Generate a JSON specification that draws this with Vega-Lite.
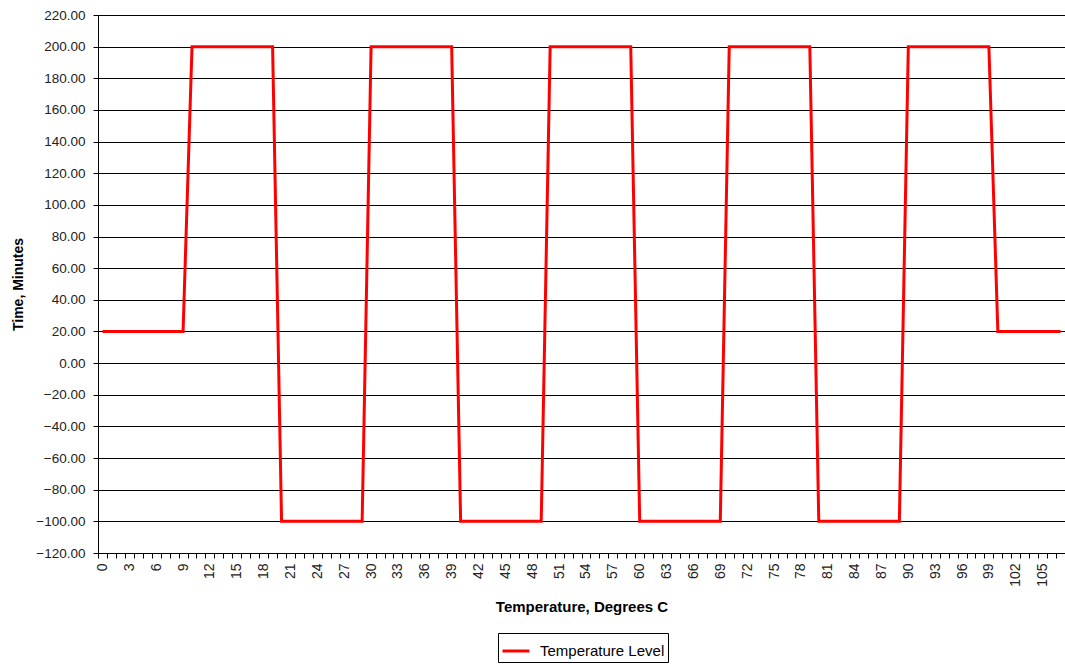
{
  "$schema": "https://vega.github.io/schema/vega-lite/v6.json",
  "autosize": "none",
  "width": 967,
  "height": 538,
  "padding": {"left": 98, "top": 15, "right": 0, "bottom": 111},
  "background": "white",
  "config": {
    "view": {"stroke": null},
    "font": "Liberation Sans"
  },
  "data": {
    "values": [
      {"t": 0, "v": 20}, {"t": 1, "v": 20}, {"t": 2, "v": 20}, {"t": 3, "v": 20}, {"t": 4, "v": 20},
      {"t": 5, "v": 20}, {"t": 6, "v": 20}, {"t": 7, "v": 20}, {"t": 8, "v": 20}, {"t": 9, "v": 20},
      {"t": 10, "v": 200}, {"t": 11, "v": 200}, {"t": 12, "v": 200}, {"t": 13, "v": 200}, {"t": 14, "v": 200},
      {"t": 15, "v": 200}, {"t": 16, "v": 200}, {"t": 17, "v": 200}, {"t": 18, "v": 200}, {"t": 19, "v": 200},
      {"t": 20, "v": -100}, {"t": 21, "v": -100}, {"t": 22, "v": -100}, {"t": 23, "v": -100}, {"t": 24, "v": -100},
      {"t": 25, "v": -100}, {"t": 26, "v": -100}, {"t": 27, "v": -100}, {"t": 28, "v": -100}, {"t": 29, "v": -100},
      {"t": 30, "v": 200}, {"t": 31, "v": 200}, {"t": 32, "v": 200}, {"t": 33, "v": 200}, {"t": 34, "v": 200},
      {"t": 35, "v": 200}, {"t": 36, "v": 200}, {"t": 37, "v": 200}, {"t": 38, "v": 200}, {"t": 39, "v": 200},
      {"t": 40, "v": -100}, {"t": 41, "v": -100}, {"t": 42, "v": -100}, {"t": 43, "v": -100}, {"t": 44, "v": -100},
      {"t": 45, "v": -100}, {"t": 46, "v": -100}, {"t": 47, "v": -100}, {"t": 48, "v": -100}, {"t": 49, "v": -100},
      {"t": 50, "v": 200}, {"t": 51, "v": 200}, {"t": 52, "v": 200}, {"t": 53, "v": 200}, {"t": 54, "v": 200},
      {"t": 55, "v": 200}, {"t": 56, "v": 200}, {"t": 57, "v": 200}, {"t": 58, "v": 200}, {"t": 59, "v": 200},
      {"t": 60, "v": -100}, {"t": 61, "v": -100}, {"t": 62, "v": -100}, {"t": 63, "v": -100}, {"t": 64, "v": -100},
      {"t": 65, "v": -100}, {"t": 66, "v": -100}, {"t": 67, "v": -100}, {"t": 68, "v": -100}, {"t": 69, "v": -100},
      {"t": 70, "v": 200}, {"t": 71, "v": 200}, {"t": 72, "v": 200}, {"t": 73, "v": 200}, {"t": 74, "v": 200},
      {"t": 75, "v": 200}, {"t": 76, "v": 200}, {"t": 77, "v": 200}, {"t": 78, "v": 200}, {"t": 79, "v": 200},
      {"t": 80, "v": -100}, {"t": 81, "v": -100}, {"t": 82, "v": -100}, {"t": 83, "v": -100}, {"t": 84, "v": -100},
      {"t": 85, "v": -100}, {"t": 86, "v": -100}, {"t": 87, "v": -100}, {"t": 88, "v": -100}, {"t": 89, "v": -100},
      {"t": 90, "v": 200}, {"t": 91, "v": 200}, {"t": 92, "v": 200}, {"t": 93, "v": 200}, {"t": 94, "v": 200},
      {"t": 95, "v": 200}, {"t": 96, "v": 200}, {"t": 97, "v": 200}, {"t": 98, "v": 200}, {"t": 99, "v": 200},
      {"t": 100, "v": 20}, {"t": 101, "v": 20}, {"t": 102, "v": 20}, {"t": 103, "v": 20}, {"t": 104, "v": 20},
      {"t": 105, "v": 20}, {"t": 106, "v": 20}, {"t": 107, "v": 20}
    ]
  },
  "mark": {"type": "line", "strokeWidth": 3, "interpolate": "linear"},
  "encoding": {
    "x": {
      "field": "t",
      "type": "ordinal",
      "bandPosition": 0.5,
      "scale": {"type": "band", "paddingInner": 0, "paddingOuter": 0},
      "axis": {
        "title": "Temperature, Degrees C",
        "titleFont": "Liberation Sans",
        "titleFontSize": 15,
        "titleFontWeight": "bold",
        "titleColor": "black",
        "titlePadding": 13,
        "labelAngle": -90,
        "labelAlign": "right",
        "labelBaseline": "middle",
        "labelFontSize": 14,
        "labelColor": "#222",
        "labelPadding": 5,
        "labelOverlap": false,
        "labelExpr": "datum.value % 3 === 0 ? datum.label : ''",
        "tickBand": "extent",
        "tickSize": 5,
        "tickColor": "black",
        "domainColor": "black",
        "grid": false
      }
    },
    "y": {
      "field": "v",
      "type": "quantitative",
      "scale": {"domain": [-120, 220], "nice": false, "zero": false},
      "axis": {
        "title": "Time, Minutes",
        "titleFont": "Liberation Sans",
        "titleFontSize": 14,
        "titleFontWeight": "bold",
        "titleColor": "black",
        "titlePadding": 10,
        "values": [-120, -100, -80, -60, -40, -20, 0, 20, 40, 60, 80, 100, 120, 140, 160, 180, 200, 220],
        "format": ".2f",
        "labelFontSize": 13.5,
        "labelColor": "#222",
        "labelPadding": 8,
        "tickSize": 5,
        "tickColor": "black",
        "domainColor": "black",
        "grid": true,
        "gridColor": "black",
        "gridOpacity": 1,
        "gridWidth": 1
      }
    },
    "color": {
      "datum": "Temperature Level",
      "type": "nominal",
      "scale": {"range": ["#ff0000"]},
      "legend": {
        "title": null,
        "orient": "none",
        "legendX": 400,
        "legendY": 618,
        "direction": "vertical",
        "strokeColor": "black",
        "fillColor": "white",
        "padding": 3,
        "symbolType": "stroke",
        "symbolSize": 729,
        "symbolStrokeWidth": 3,
        "labelOffset": 9,
        "labelFontSize": 15,
        "labelColor": "black",
        "labelFont": "Liberation Sans"
      }
    }
  }
}
